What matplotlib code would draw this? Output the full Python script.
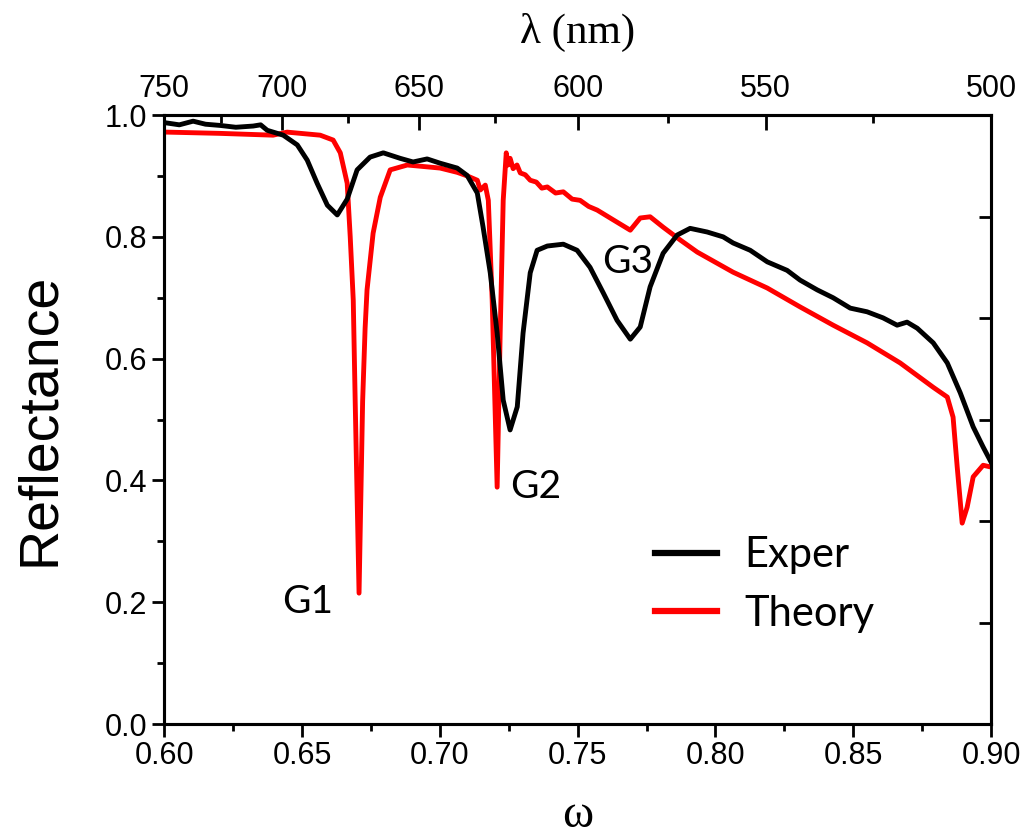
import numpy as np
import matplotlib
matplotlib.use("Agg")
import matplotlib.pyplot as plt

# -------------------------
# Data
# -------------------------
exper_w = [0.601, 0.6055, 0.6105, 0.615, 0.6203, 0.626, 0.6323, 0.635, 0.6374, 0.6432,
           0.6483, 0.6519, 0.6555, 0.6592, 0.6628, 0.6664, 0.6700, 0.6747, 0.6795, 0.6856,
           0.6903, 0.6954, 0.7001, 0.7063, 0.7099, 0.7136, 0.7157, 0.7183, 0.7208, 0.7230,
           0.7255, 0.7281, 0.7302, 0.7328, 0.7353, 0.7390, 0.7448, 0.7498, 0.7545, 0.7593,
           0.7643, 0.7691, 0.7727, 0.7763, 0.7810, 0.7861, 0.7908, 0.7970, 0.8028, 0.8064,
           0.8126, 0.8188, 0.8260, 0.8307, 0.8369, 0.8427, 0.8489, 0.8550, 0.8608, 0.8659,
           0.8695, 0.8732, 0.8790, 0.8841, 0.8888, 0.8935, 0.8971, 0.9000]
exper_r = [0.987, 0.984, 0.990, 0.985, 0.983, 0.980, 0.982, 0.984, 0.975, 0.967,
           0.951, 0.926, 0.888, 0.852, 0.836, 0.862, 0.910, 0.931, 0.938, 0.929,
           0.923, 0.928, 0.921, 0.913, 0.901, 0.872, 0.816, 0.741, 0.642, 0.532,
           0.483, 0.521, 0.642, 0.741, 0.778, 0.785, 0.788, 0.778, 0.750, 0.708,
           0.663, 0.632, 0.652, 0.718, 0.773, 0.803, 0.814, 0.808, 0.800, 0.790,
           0.778, 0.759, 0.745, 0.729, 0.713, 0.700, 0.683, 0.677, 0.667, 0.655,
           0.660, 0.650, 0.626, 0.593, 0.544, 0.488, 0.455, 0.430]

theory_w = [0.601, 0.620, 0.6395, 0.6446, 0.6566, 0.6613, 0.6639, 0.6664, 0.6675, 0.6686,
            0.6693, 0.6707, 0.6720, 0.6729, 0.6736, 0.6758, 0.6784, 0.6820, 0.6882, 0.7001,
            0.7063, 0.7100, 0.7136, 0.7147, 0.7165, 0.7176, 0.7190, 0.7208, 0.7219, 0.7230,
            0.7241, 0.7248, 0.7255, 0.7266, 0.7280, 0.7292, 0.7310, 0.7328, 0.7350, 0.7370,
            0.7390, 0.7420, 0.7448, 0.7480, 0.7509, 0.7540, 0.7571, 0.7629, 0.7691, 0.7727,
            0.7763, 0.7810, 0.7872, 0.7934, 0.8064, 0.8188, 0.8307, 0.8427, 0.8550, 0.8670,
            0.8790, 0.8841, 0.8862, 0.8877, 0.8895, 0.8913, 0.8935, 0.8971, 0.9000]
theory_r = [0.972, 0.970, 0.967, 0.972, 0.967, 0.959, 0.938, 0.888, 0.800, 0.696,
            0.530, 0.215, 0.530, 0.650, 0.713, 0.806, 0.865, 0.910, 0.918, 0.913,
            0.906, 0.900, 0.893, 0.877, 0.885, 0.860, 0.696, 0.389, 0.642, 0.860,
            0.938, 0.918, 0.929, 0.912, 0.918, 0.905, 0.902, 0.893, 0.890, 0.880,
            0.882, 0.872, 0.874, 0.862, 0.860, 0.850, 0.844, 0.828, 0.811, 0.831,
            0.833, 0.816, 0.795, 0.775, 0.742, 0.716, 0.685, 0.655, 0.626, 0.593,
            0.553, 0.537, 0.504, 0.422, 0.330, 0.356, 0.406, 0.425, 0.422]

peak_labels = ["G1", "G2", "G3"]
peak_w = [0.6522, 0.7346, 0.7683]
peak_r = [0.200, 0.389, 0.759]

lam_major = [750, 700, 650, 600, 550, 500]
lam_minor = [725, 675, 625, 575, 525]

# -------------------------
# Plot
# -------------------------
fig = plt.figure(figsize=(10.26, 8.4), dpi=100)
ax = fig.add_axes([0.160, 0.138, 0.806, 0.725])

ax.plot(exper_w, exper_r, color="black", lw=3.5, label="Exper", zorder=3)
ax.plot(theory_w, theory_r, color="#ff0000", lw=3.5, label="Theory", zorder=2)

ax.set_xlim(0.60, 0.90)
ax.set_ylim(0.0, 1.0)
ax.set_xticks(np.arange(0.60, 0.901, 0.05))
ax.set_xticks(np.arange(0.625, 0.90, 0.05), minor=True)
ax.set_yticks(np.arange(0.0, 1.01, 0.2))
ax.set_yticks(np.arange(0.1, 1.0, 0.2), minor=True)
ax.set_xticklabels([f"{v:.2f}" for v in np.arange(0.60, 0.901, 0.05)])
ax.set_yticklabels([f"{v:.1f}" for v in np.arange(0.0, 1.01, 0.2)])

tick_font = "Liberation Sans"
for lab in ax.get_xticklabels() + ax.get_yticklabels():
    lab.set_fontfamily(tick_font)
    lab.set_fontsize(22)

ax.tick_params(which="major", direction="out", length=9, width=2, pad=3)
ax.tick_params(which="minor", direction="out", length=5, width=2)
for sp in ax.spines.values():
    sp.set_linewidth(2.2)

# right side: inward ticks, no labels
axr = ax.twinx()
axr.set_ylim(0.0, 1.0)
axr.set_yticks(np.arange(0, 1.001, 1 / 6))
axr.set_yticklabels([])
axr.tick_params(direction="in", length=9, width=2)
for sp in axr.spines.values():
    sp.set_linewidth(2.2)


# top: wavelength axis, lambda = 450 / omega
def w2l(w):
    w = np.asarray(w, dtype=float)
    with np.errstate(divide="ignore"):
        return np.where(w == 0, np.inf, 450.0 / np.where(w == 0, 1, w))


axt = ax.secondary_xaxis("top", functions=(w2l, w2l))
axt.set_xticks(lam_major)
axt.set_xticks(lam_minor, minor=True)
axt.set_xticklabels([str(v) for v in lam_major], fontfamily=tick_font, fontsize=22)
axt.tick_params(which="major", direction="in", length=11, width=2, pad=8)
axt.tick_params(which="minor", direction="in", length=6, width=2)
axt.set_xlabel("λ (nm)", fontfamily="Liberation Serif", fontsize=31, labelpad=22)

ax.set_xlabel("ω", fontfamily="Liberation Serif", fontsize=34, labelpad=17)
ax.set_ylabel("Reflectance", fontfamily="Liberation Sans", fontsize=40, labelpad=28)

for txt, w, r in zip(peak_labels, peak_w, peak_r):
    ax.text(w, r, txt, fontfamily="Lato", fontsize=28, ha="center", va="center")

leg = ax.legend(loc="upper left", bbox_to_anchor=(0.548, 0.37), frameon=False,
                prop={"family": "Lato", "size": 30}, handlelength=1.5,
                handletextpad=0.65, labelspacing=0.5)
for line in leg.get_lines():
    line.set_linewidth(4.5)

fig.savefig("out.png", dpi=100)
